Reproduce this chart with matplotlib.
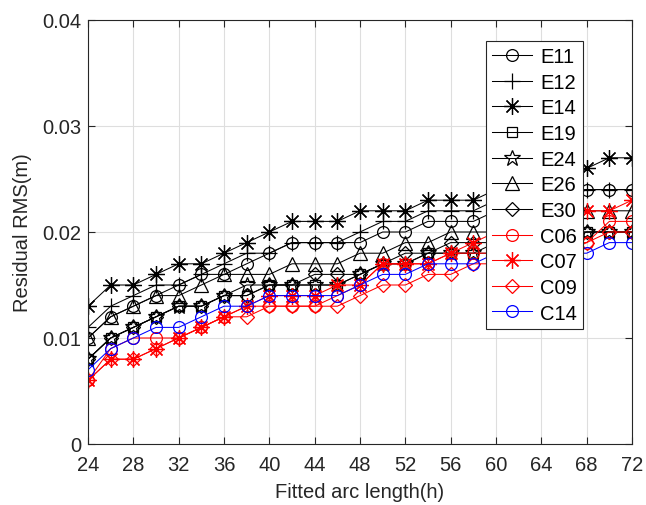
import numpy as np
import matplotlib
matplotlib.use("Agg")
import matplotlib.pyplot as plt

# ###########################################
# Data (unit: mm -> m below)
# ###########################################
arc_length = [24, 26, 28, 30, 32, 34, 36, 38, 40, 42, 44, 46, 48,
              50, 52, 54, 56, 58, 60, 62, 64, 66, 68, 70, 72]

e11 = [10, 12, 13, 14, 15, 16, 16, 17, 18, 19, 19, 19, 19,
       20, 20, 21, 21, 21, 22, 22, 23, 23, 24, 24, 24]
e12 = [11, 13, 14, 15, 15, 16, 17, 18, 18, 19, 19, 19, 20,
       21, 21, 22, 22, 22, 23, 23, 23, 24, 24, 24, 24]
e14 = [13, 15, 15, 16, 17, 17, 18, 19, 20, 21, 21, 21, 22,
       22, 22, 23, 23, 23, 24, 24, 25, 25, 26, 27, 27]
e19 = [8, 10, 11, 12, 13, 13, 14, 14, 15, 15, 15, 15, 16,
       17, 17, 18, 18, 18, 18, 19, 19, 19, 20, 20, 20]
e24 = [8, 10, 11, 12, 13, 13, 14, 15, 15, 15, 15, 15, 16,
       17, 17, 18, 18, 18, 19, 19, 19, 20, 20, 20, 20]
e26 = [10, 12, 13, 14, 14, 15, 16, 16, 16, 17, 17, 17, 18,
       18, 19, 19, 20, 20, 20, 21, 21, 21, 22, 22, 22]
e30 = [8, 10, 11, 12, 13, 13, 14, 14, 15, 15, 16, 16, 16,
       17, 18, 18, 19, 19, 19, 19, 20, 20, 20, 20, 20]
c06 = [6, 9, 10, 10, 10, 11, 12, 13, 13, 13, 13, 14, 15,
       17, 17, 17, 18, 18, 18, 18, 19, 19, 19, 21, 21]
c07 = [6, 8, 8, 9, 10, 11, 12, 13, 14, 14, 14, 15, 15,
       17, 17, 17, 18, 19, 20, 20, 21, 21, 22, 22, 23]
c09 = [6, 8, 8, 9, 10, 11, 12, 12, 13, 13, 13, 13, 14,
       15, 15, 16, 16, 17, 17, 18, 18, 18, 19, 20, 20]
c14 = [7, 9, 10, 11, 11, 12, 13, 13, 14, 14, 14, 14, 15,
       16, 16, 17, 17, 17, 18, 18, 18, 18, 18, 19, 19]

labels = ["E11", "E12", "E14", "E19", "E24", "E26", "E30", "C06", "C07", "C09", "C14"]
x_ticks = [24, 28, 32, 36, 40, 44, 48, 52, 56, 60, 64, 68, 72]
y_ticks = [0, 0.01, 0.02, 0.03, 0.04]
y_tick_labels = ["0", "0.01", "0.02", "0.03", "0.04"]

# ###########################################
# Styles (matlab-like)
# ###########################################
ASTERISK = (8, 2, 0)
styles = [
    ("black", "o", 8.5),
    ("black", "+", 11),
    ("black", ASTERISK, 12),
    ("black", "s", 7.5),
    ("black", "*", 12),
    ("black", "^", 9.5),
    ("black", "D", 6.8),
    ("red", "o", 8.5),
    ("red", ASTERISK, 12),
    ("red", "D", 6.8),
    ("blue", "o", 8.5),
]
series = [e11, e12, e14, e19, e24, e26, e30, c06, c07, c09, c14]
text_color = "#262626"

plt.rcParams["font.family"] = ["Liberation Sans", "DejaVu Sans"]
plt.rcParams["font.size"] = 14.5

fig = plt.figure(figsize=(6.46, 5.06), dpi=100)
ax = fig.add_axes([88 / 646, 61 / 506, 544 / 646, 424 / 506])

for values, label, (color, marker, size) in zip(series, labels, styles):
    ax.plot(arc_length, np.array(values) / 1000.0, color=color, marker=marker,
            markersize=size, markerfacecolor="none", markeredgecolor=color,
            markeredgewidth=0.9, linewidth=0.75, label=label)

# axes settings
ax.set_xlim(24, 72)
ax.set_ylim(0, 0.04)
ax.set_xticks(x_ticks)
ax.set_yticks(y_ticks)
ax.set_yticklabels(y_tick_labels)
ax.grid(True, color="#dedede", linewidth=0.8)
ax.set_axisbelow(True)
ax.tick_params(direction="in", length=5, width=0.8, top=True, right=True,
               colors=text_color, labelcolor=text_color)
ax.tick_params(axis="x", pad=8)
ax.tick_params(axis="y", pad=5)
for spine in ax.spines.values():
    spine.set_color(text_color)
    spine.set_linewidth(0.8)

ax.set_xlabel("Fitted arc length(h)", color=text_color, labelpad=6)
ax.set_ylabel("Residual RMS(m)", color=text_color, labelpad=7)

# legend
leg = ax.legend(loc="upper right", bbox_to_anchor=(583 / 646, (506 - 42) / 506),
                bbox_transform=fig.transFigure, borderaxespad=0, fancybox=False,
                framealpha=1, edgecolor=text_color, handlelength=2.0,
                handletextpad=0.4, labelspacing=0.33, borderpad=0.3)
leg.get_frame().set_linewidth(0.8)

fig.savefig("out.png", dpi=100)
